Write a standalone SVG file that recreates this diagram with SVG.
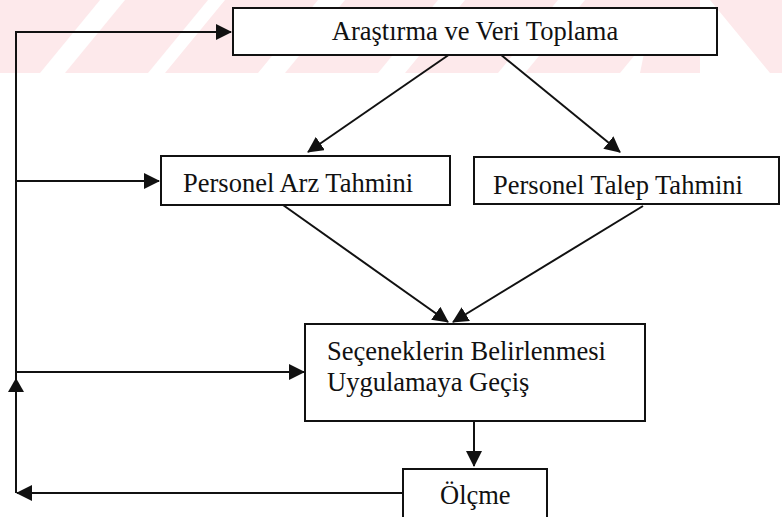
<svg xmlns="http://www.w3.org/2000/svg" width="782" height="517" viewBox="0 0 782 517">
<style>
.box{fill:#fff;stroke:#111;stroke-width:2}
.lbl{font-family:"Liberation Serif","Times New Roman",serif;font-size:26.5px;fill:#111}
.ln{fill:none;stroke:#111;stroke-width:2}
.wm{fill:#fde9eb}
</style>
<defs>
<marker id="ah" markerUnits="userSpaceOnUse" markerWidth="16" markerHeight="16" viewBox="0 0 16 16" refX="15" refY="8" orient="auto">
<path d="M0,0 L16,8 L0,16 Z" fill="#111"/>
</marker>
</defs>
<rect width="782" height="517" fill="#fff"/>
<g id="watermark">
<polygon class="wm" points="0,0 100,0 40,73 0,73"/>
<polygon class="wm" points="125,0 208,0 148,73 65,73"/>
<polygon class="wm" points="225,0 318,0 258,73 165,73"/>
<polygon class="wm" points="345,0 438,0 378,73 285,73"/>
<polygon class="wm" points="465,0 558,0 498,73 405,73"/>
<polygon class="wm" points="585,0 680,0 620,73 525,73"/>
<polygon class="wm" points="655,0 700,0 700,73 640,73"/>
<polygon class="wm" points="710,0 782,0 782,73 770,73"/>
</g>
<g id="connectors">
<path class="ln" d="M16,493 V32 H231" marker-end="url(#ah)"/>
<path class="ln" d="M16,181 H159" marker-end="url(#ah)"/>
<path class="ln" d="M16,372 H304" marker-end="url(#ah)"/>
<path class="ln" d="M403,493 H17" marker-end="url(#ah)"/>
<polygon points="16,378 8,392 24,392" fill="#111"/>
<path class="ln" d="M450,54 L308,152" marker-end="url(#ah)"/>
<path class="ln" d="M500,54 L620,152" marker-end="url(#ah)"/>
<path class="ln" d="M283,205 L448,322" marker-end="url(#ah)"/>
<path class="ln" d="M643,206 L453,322" marker-end="url(#ah)"/>
<path class="ln" d="M474,421 V466" marker-end="url(#ah)"/>
</g>
<g id="n1">
<rect class="box" x="233" y="8" width="484" height="47" stroke-width="3"/>
<text class="lbl" x="475" y="40" text-anchor="middle">Araştırma ve Veri Toplama</text>
</g>
<g id="n2">
<rect class="box" x="161" y="156" width="289" height="49"/>
<text class="lbl" x="183" y="192">Personel Arz Tahmini</text>
</g>
<g id="n3">
<rect class="box" x="474" y="157" width="305" height="47"/>
<text class="lbl" x="493" y="194">Personel Talep Tahmini</text>
</g>
<g id="n4">
<rect class="box" x="305" y="324" width="340" height="97"/>
<text class="lbl" x="327" y="360">Seçeneklerin Belirlenmesi</text>
<text class="lbl" x="327" y="391">Uygulamaya Geçiş</text>
</g>
<g id="n5">
<rect class="box" x="403" y="469" width="144" height="54"/>
<text class="lbl" x="440" y="504">Ölçme</text>
</g>
</svg>
